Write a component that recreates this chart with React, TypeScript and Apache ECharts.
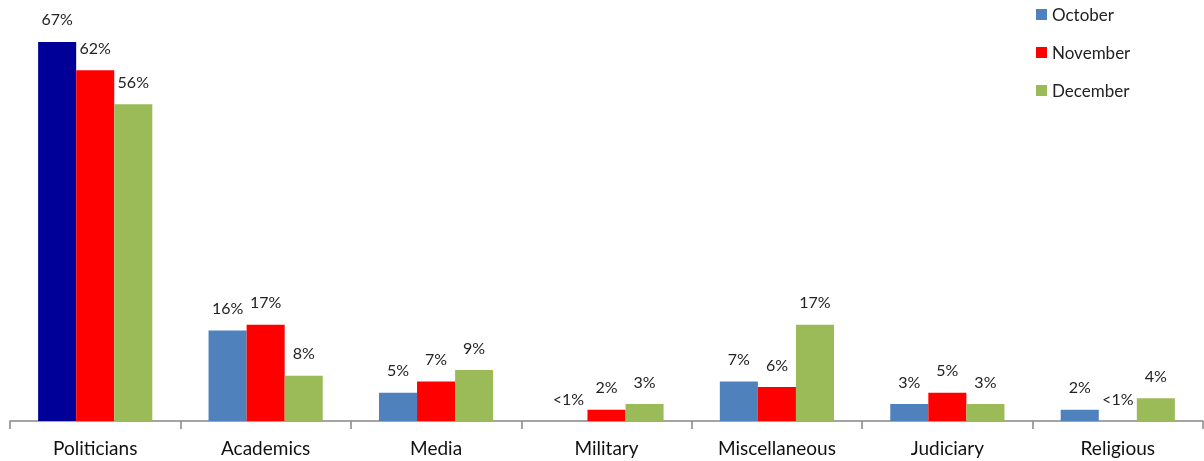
import React, { useEffect, useRef } from "react";
import * as echarts from "echarts";

const categories = ["Politicians", "Academics", "Media", "Military", "Miscellaneous", "Judiciary", "Religious"];
const october = [67, 16, 5, 0, 7, 3, 2];
const november = [62, 17, 7, 2, 6, 5, 0];
const december = [56, 8, 9, 3, 17, 3, 4];
const octoberLabels = ["67%", "16%", "5%", "<1%", "7%", "3%", "2%"];
const novemberLabels = ["62%", "17%", "7%", "2%", "6%", "5%", "<1%"];
const decemberLabels = ["56%", "8%", "9%", "3%", "17%", "3%", "4%"];

const FONT = "Lato, 'Open Sans', sans-serif";

export default function App() {
  const ref = useRef<HTMLDivElement>(null);
  useEffect(() => {
    if (!ref.current) return;
    const chart = echarts.init(ref.current, null, { renderer: "svg" });
    const mk = (name: string, values: number[], labels: string[], color: string, special?: (i: number) => string | undefined) => ({
      name,
      type: "bar",
      barGap: "0%",
      barCategoryGap: "33%",
      itemStyle: { color },
      label: {
        show: true,
        position: "top",
        distance: 15,
        fontFamily: FONT,
        fontSize: 16,
        color: "#222",
        formatter: (p: any) => labels[p.dataIndex],
      },
      data: values.map((v, i) => {
        const c = special ? special(i) : undefined;
        return c ? { value: v, itemStyle: { color: c } } : v;
      }),
    });
    chart.setOption({
      animation: false,
      grid: { left: 10, right: 1, top: 25, bottom: 40 },
      legend: {
        orient: "vertical",
        left: 1031,
        top: 1,
        itemWidth: 11,
        itemHeight: 11,
        itemGap: 21,
        icon: "rect",
        textStyle: { fontFamily: FONT, fontSize: 17, color: "#222", padding: [0, 0, 0, 0] },
        data: ["October", "November", "December"],
      },
      xAxis: {
        type: "category",
        data: categories,
        boundaryGap: true,
        axisLine: { lineStyle: { color: "#868686", width: 1.5 } },
        axisTick: { show: true, alignWithLabel: false, length: 8, lineStyle: { color: "#868686", width: 1.5 } },
        axisLabel: { fontFamily: FONT, fontSize: 19, color: "#111", margin: 17 },
      },
      yAxis: {
        type: "value",
        min: 0,
        max: 70,
        show: false,
        splitLine: { show: false },
      },
      series: [
        mk("October", october, octoberLabels, "#4F81BD", (i) => (i === 0 ? "#000099" : undefined)),
        mk("November", november, novemberLabels, "#FF0000"),
        mk("December", december, decemberLabels, "#9BBB59"),
      ],
    });
    return () => chart.dispose();
  }, []);
  return <div ref={ref} style={{ position: "fixed", left: 0, top: 0, width: 1204, height: 461 }} />;
}
